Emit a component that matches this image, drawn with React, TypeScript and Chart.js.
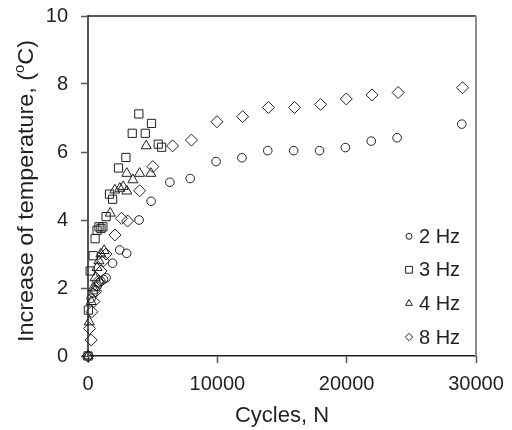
import React, { useEffect, useRef } from "react";
import { Chart, registerables } from "chart.js";
import { drawPoint } from "chart.js/helpers";

Chart.register(...registerables);

const FONT = "'Liberation Sans', Arial, Helvetica, sans-serif";
const TEXT = "#231f20";

const seriesLabels = ["2 Hz", "3 Hz", "4 Hz", "8 Hz"];
const pointStyles = ["circle", "rect", "triangle", "rectRot"];
const pointRadii = [4.3, 5.8, 5.8, 6];
const legendRadii = [3, 4.8, 3.9, 3.7];

const xTickValues = [0, 10000, 20000, 30000];
const yTickValues = [0, 2, 4, 6, 8, 10];

const cycles2Hz = [0, 250, 400, 550, 700, 850, 1000, 1200, 1400, 1900, 2450, 2990, 3950, 4880, 6330, 7900, 9900, 11900, 13900, 15900, 17900, 19900, 21900, 23900, 28900];
const temp2Hz = [0, 1.7, 1.85, 1.95, 2.05, 2.15, 2.2, 2.25, 2.3, 2.73, 3.12, 3.02, 4.0, 4.55, 5.11, 5.22, 5.72, 5.83, 6.04, 6.04, 6.04, 6.13, 6.32, 6.42, 6.82];

const cycles3Hz = [0, 30, 170, 400, 550, 700, 850, 1000, 1150, 1400, 1660, 1900, 2360, 2930, 3420, 3930, 4430, 4910, 5430, 5690];
const temp3Hz = [0, 1.35, 2.5, 2.95, 3.45, 3.7, 3.8, 3.75, 3.8, 4.1, 4.76, 4.61, 5.53, 5.84, 6.55, 7.12, 6.55, 6.84, 6.23, 6.14];

const cycles4Hz = [0, 100, 250, 400, 550, 700, 850, 1000, 1250, 1720, 2070, 2460, 2720, 3000, 3470, 3000, 3990, 4860, 4500];
const temp4Hz = [0, 1.0, 1.6, 2.0, 2.3, 2.6, 2.8, 3.0, 3.1, 4.2, 4.88, 4.93, 4.98, 4.85, 5.18, 5.37, 5.37, 5.37, 6.18];

const cycles8Hz = [0, 250, 120, 300, 450, 600, 800, 1000, 1200, 1400, 2080, 2590, 3060, 3990, 5020, 6540, 8000, 9970, 11960, 13950, 15970, 17980, 19970, 21960, 23980, 28960];
const temp8Hz = [0, 0.47, 0.81, 1.3, 1.6, 1.9, 2.2, 2.5, 2.8, 3.0, 3.56, 4.05, 3.97, 4.86, 5.57, 6.18, 6.35, 6.89, 7.04, 7.31, 7.31, 7.4, 7.56, 7.68, 7.75, 7.89];

const seriesX = [cycles2Hz, cycles3Hz, cycles4Hz, cycles8Hz];
const seriesY = [temp2Hz, temp3Hz, temp4Hz, temp8Hz];

const decorPlugin = {
  id: "decor",
  afterDraw(chart: any) {
    const { ctx, chartArea: ca } = chart;
    ctx.save();
    // top frame
    ctx.strokeStyle = TEXT;
    ctx.lineWidth = 1.5;
    ctx.beginPath();
    ctx.moveTo(ca.left, ca.top);
    ctx.lineTo(ca.right, ca.top);
    ctx.stroke();
    // right frame
    ctx.strokeStyle = "#8c8c8c";
    ctx.lineWidth = 2;
    ctx.beginPath();
    ctx.moveTo(ca.right, ca.top);
    ctx.lineTo(ca.right, ca.bottom);
    ctx.stroke();

    // x title
    ctx.fillStyle = TEXT;
    ctx.font = `22px ${FONT}`;
    ctx.textAlign = "center";
    ctx.textBaseline = "alphabetic";
    ctx.fillText("Cycles, N", (ca.left + ca.right) / 2, 421.5);

    // y title with superscript
    const main1 = "Increase of temperature, (";
    const sup = "o";
    const main2 = "C)";
    const fMain = `22px ${FONT}`;
    const fSup = `14px ${FONT}`;
    ctx.font = fMain;
    const w1 = ctx.measureText(main1).width;
    const w3 = ctx.measureText(main2).width;
    ctx.font = fSup;
    const w2 = ctx.measureText(sup).width;
    const total = w1 + w2 + w3;
    const target = 302;
    const sx = target / total;
    ctx.translate(33, 191);
    ctx.rotate(-Math.PI / 2);
    ctx.scale(sx, 1);
    ctx.textAlign = "left";
    let x0 = -total / 2;
    ctx.font = fMain;
    ctx.fillText(main1, x0, 0);
    x0 += w1;
    ctx.font = fSup;
    ctx.fillText(sup, x0, -9);
    x0 += w2;
    ctx.font = fMain;
    ctx.fillText(main2, x0, 0);
    ctx.restore();

    // legend
    ctx.save();
    const markerX = ca.right - 67;
    const textX = ca.right - 57;
    const ys = [236.3, 269.8, 303.4, 337];
    chart.data.datasets.forEach((ds: any, i: number) => {
      const y = ys[i];
      ctx.strokeStyle = TEXT;
      ctx.fillStyle = "rgba(0,0,0,0)";
      ctx.lineWidth = 1;
      drawPoint(ctx, { pointStyle: ds.pointStyle, radius: legendRadii[i], rotation: 0, borderWidth: 1 }, markerX, y);
      ctx.fillStyle = TEXT;
      ctx.font = `20px ${FONT}`;
      ctx.textAlign = "left";
      ctx.textBaseline = "middle";
      ctx.fillText(ds.label, textX, y + 1);
    });
    ctx.restore();
  },
};

export default function App() {
  const ref = useRef<HTMLCanvasElement | null>(null);
  useEffect(() => {
    if (!ref.current) return;
    const datasets = seriesLabels.map((label, i) => ({
      label,
      data: seriesX[i].map((x, j) => ({ x, y: seriesY[i][j] })),
      pointStyle: pointStyles[i],
      pointRadius: pointRadii[i],
      pointHoverRadius: pointRadii[i],
      pointBorderColor: TEXT,
      pointBackgroundColor: "rgba(0,0,0,0)",
      pointBorderWidth: 1,
      borderColor: TEXT,
      backgroundColor: "rgba(0,0,0,0)",
      showLine: false,
      clip: false as any,
    }));
    const chart = new Chart(ref.current, {
      type: "scatter",
      data: { datasets },
      options: {
        responsive: false,
        animation: false,
        layout: { padding: { left: 0, top: 16, right: 36, bottom: 0 } },
        plugins: { legend: { display: false }, tooltip: { enabled: false } },
        scales: {
          x: {
            type: "linear",
            min: 0,
            max: 30000,
            afterFit: (s: any) => {
              s.height = 74;
              s.paddingLeft = 0;
              s.paddingRight = 0;
            },
            afterBuildTicks: (s: any) => {
              s.ticks = xTickValues.map((v) => ({ value: v }));
            },
            ticks: {
              font: { family: FONT, size: 20 },
              color: TEXT,
              padding: 9,
              maxRotation: 0,
              callback: (v: any) => String(v),
            },
            grid: { drawOnChartArea: false, drawTicks: true, tickLength: 7, tickColor: "#555", tickWidth: 1.5 },
            border: { color: TEXT, width: 1.5 },
          },
          y: {
            type: "linear",
            min: 0,
            max: 10,
            afterFit: (s: any) => {
              s.width = 88;
              s.paddingTop = 0;
              s.paddingBottom = 0;
            },
            afterBuildTicks: (s: any) => {
              s.ticks = yTickValues.map((v) => ({ value: v }));
            },
            ticks: {
              font: { family: FONT, size: 20 },
              color: TEXT,
              padding: 13,
              callback: (v: any) => String(v),
            },
            grid: { drawOnChartArea: false, drawTicks: true, tickLength: 7, tickColor: "#555", tickWidth: 1.5 },
            border: { color: "#555", width: 2 },
          },
        },
      },
      plugins: [decorPlugin],
    });
    return () => chart.destroy();
  }, []);
  return (
    <div style={{ position: "fixed", left: 0, top: 0, width: 512, height: 430, background: "#fff" }}>
      <canvas ref={ref} width={512} height={430} style={{ display: "block" }} />
    </div>
  );
}
